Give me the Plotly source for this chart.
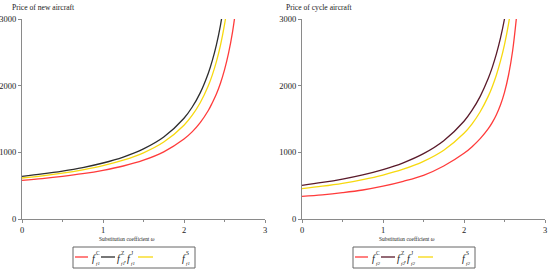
import plotly.graph_objects as go
from plotly.subplots import make_subplots

# substitution coefficient grid
omega = [0, 0.25, 0.5, 0.75, 1.0, 1.25, 1.5, 1.75, 2.0, 2.1, 2.2, 2.3, 2.35, 2.4, 2.45, 2.5, 2.55, 2.6, 2.65]

# price of new aircraft (left panel)
new_c = [580, 607, 640, 680, 730, 795, 883, 1008, 1200, 1307, 1446, 1627, 1745, 1875, 2037, 2237, 2487, 2811, 3247]
new_zj = [640, 676, 719, 772, 840, 929, 1051, 1229, 1511, 1676, 1892, 2187, 2379, 2613, 2906, 3283, None, None, None]
new_s = [615, 648, 688, 738, 800, 882, 993, 1154, 1407, 1553, 1743, 1998, 2162, 2360, 2604, 2914, 3317, None, None]

# price of cycle aircraft (right panel)
cyc_c = [340, 363, 395, 435, 492, 565, 655, 795, 985, 1085, 1205, 1355, 1450, 1565, 1710, 1900, 2160, 2520, 3050]
cyc_zj = [505, 548, 599, 662, 741, 843, 980, 1174, 1467, 1632, 1840, 2110, 2278, 2476, 2713, 3000, 3357, None, None]
cyc_s = [455, 492, 536, 591, 659, 747, 865, 1032, 1286, 1428, 1609, 1843, 1989, 2161, 2367, 2617, 2928, 3325, None]

x_ticks = [0, 1, 2, 3]
y_ticks = [0, 1000, 2000, 3000]

RED = "#ff3b3b"
YELLOW = "#f7d90f"
AXIS = "#8a8a8a"
TEXT = "#222222"
SERIF = "Liberation Serif"

fig = make_subplots(rows=1, cols=2)


def add_curves(c, zj, s, col, dark):
    for vals, color in zip([c, zj, s], [RED, dark, YELLOW]):
        fig.add_trace(
            go.Scatter(x=omega, y=vals, mode="lines", showlegend=False,
                       line=dict(color=color, width=1.3, shape="spline", smoothing=1)),
            row=1, col=col,
        )


def add_legend(x0, sub, dark):
    # boxed legend drawn below each panel
    fig.add_shape(type="rect", xref="paper", yref="paper",
                  x0=x0 / 550, x1=(x0 + 122) / 550, y0=1 - 268 / 274, y1=1 - 247 / 274,
                  line=dict(color="#666", width=1), fillcolor="white")
    for a, b, color in [(2, 15, RED), (28, 42, dark), (65, 80, YELLOW)]:
        fig.add_shape(type="line", xref="paper", yref="paper",
                      x0=(x0 + a) / 550, x1=(x0 + b) / 550, y0=1 - 257 / 274, y1=1 - 257 / 274,
                      line=dict(color=color, width=1.3))

    def txt(text, x, y, size):
        fig.add_annotation(text=text, xref="paper", yref="paper", x=(x0 + x) / 550, y=1 - y / 274,
                           xanchor="center", yanchor="middle", showarrow=False,
                           font=dict(family=SERIF, size=size, color=TEXT))

    for fx, letter in [(21, "C"), (46, "Z"), (56, "J"), (111, "S")]:
        txt("<i>f</i>", fx, 258, 10)
        txt(letter, fx + 3.5, 252.5, 5.5)
        txt(f"<i>{sub}</i>", fx + 3.5, 263, 5)
    txt(",", 52, 259, 8)


add_curves(new_c, new_zj, new_s, 1, "#2e2e2e")
add_curves(cyc_c, cyc_zj, cyc_s, 2, "#5a1a2a")
add_legend(73, "f1", "#2e2e2e")
add_legend(353, "f2", "#5a1a2a")

axis_style = dict(
    showline=True, linecolor=AXIS, linewidth=1, ticks="outside", ticklen=3,
    tickcolor=AXIS, showgrid=False, zeroline=False, automargin=False,
    tickfont=dict(family=SERIF, size=8.5, color=TEXT),
)
fig.update_xaxes(range=[0, 3], tickvals=x_ticks,
                 minor=dict(ticks="outside", ticklen=2, dtick=0.5, tickcolor=AXIS),
                 **axis_style)
fig.update_yaxes(range=[0, 3000], tickvals=y_ticks, **axis_style)

fig.update_layout(
    width=550, height=274,
    margin=dict(l=0, r=0, t=0, b=0),
    plot_bgcolor="white", paper_bgcolor="white",
    font=dict(family=SERIF, size=9, color=TEXT),
    xaxis=dict(domain=[22 / 550, 265 / 550]),
    xaxis2=dict(domain=[302 / 550, 545 / 550]),
    yaxis=dict(domain=[1 - 219 / 274, 1 - 19 / 274]),
    yaxis2=dict(domain=[1 - 219 / 274, 1 - 19 / 274]),
    showlegend=False,
)

for text, x in [("Price of new aircraft", 10), ("Price of cycle aircraft", 284)]:
    fig.add_annotation(text=text, xref="paper", yref="paper", x=x / 550, y=1 - 8 / 274,
                       xanchor="left", yanchor="middle", showarrow=False,
                       font=dict(family=SERIF, size=7.6, color=TEXT))
for x in [127, 407]:
    fig.add_annotation(text="Substitution coefficient <i>ω</i>", xref="paper", yref="paper",
                       x=x / 550, y=1 - 239 / 274, xanchor="center", yanchor="middle",
                       showarrow=False, font=dict(family=SERIF, size=5.4, color=TEXT))

fig.write_html("out.html", config={"displayModeBar": False},
               post_script="document.body.style.margin='0px';")
